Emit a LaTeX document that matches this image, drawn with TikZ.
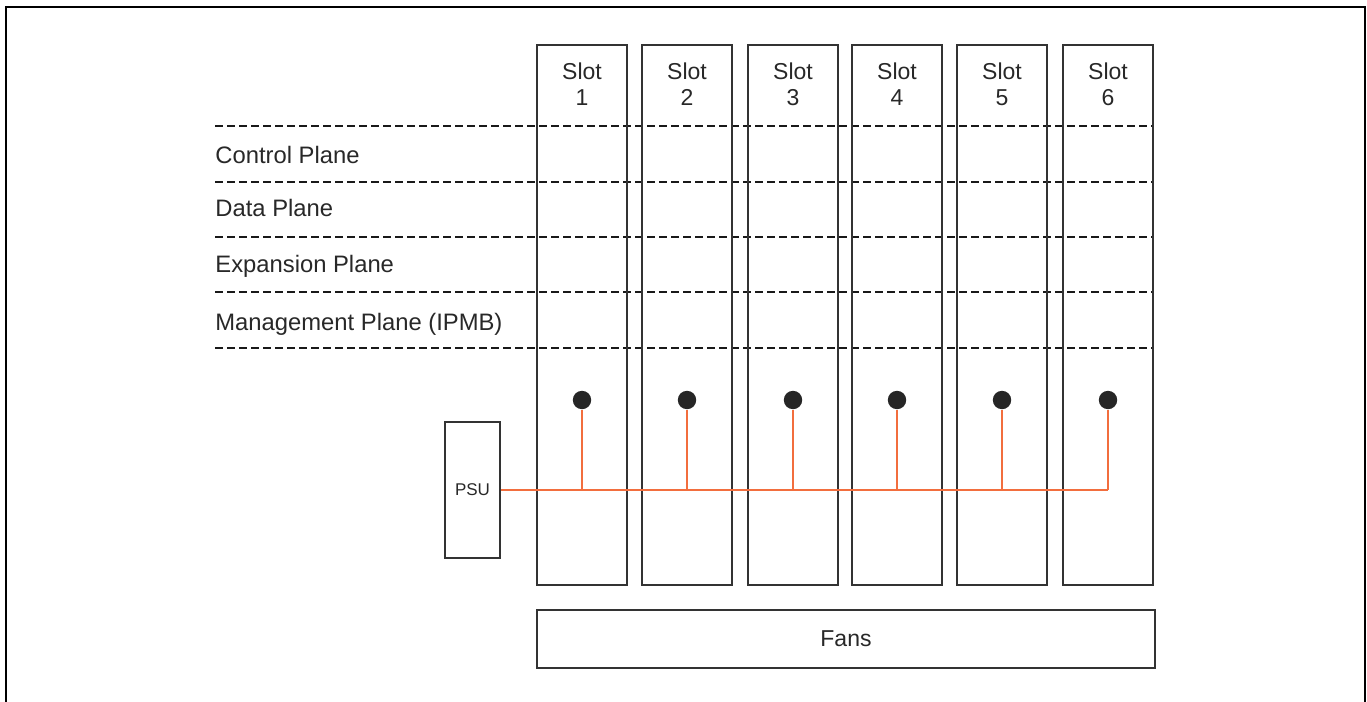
\documentclass[tikz,border=0pt]{standalone}
\usepackage{fontspec}
\setmainfont{Liberation Sans}
\definecolor{psuorange}{RGB}{242,110,62}
\definecolor{boxgray}{RGB}{51,51,51}
\definecolor{textgray}{RGB}{40,40,40}

\begin{document}
\begin{tikzpicture}[x=0.5pt, y=-0.5pt,
		box/.style={draw=boxgray, line width=1pt, inner sep=0pt, text=textgray},
		slotlabel/.style={align=center, inner sep=0pt, text=textgray, font=\fontsize{11.5}{13}\selectfont},
		plane/.style={anchor=base west, inner sep=0pt, text=textgray, font=\fontsize{11.9}{14}\selectfont},
		pin/.style={circle, fill=black!85, inner sep=0pt, minimum size=9.2pt},
		power/.style={psuorange, line width=1.35pt}]
		\useasboundingbox (0, 0) rectangle (1367, 702);
		\draw[black, line width=1pt] (6, 702) -- (6, 7) -- (1365, 7) -- (1365, 702);
		\foreach \y in {126, 182, 237, 292, 348}
			\draw[black!90, line width=0.8pt, dash pattern=on 4pt off 2pt] (215, \y) -- (1154, \y);
		\node[plane] (control) at (215, 163) {Control Plane};
		\node[plane] (data) at (215, 216) {Data Plane};
		\node[plane] (expansion) at (215, 272) {Expansion Plane};
		\node[plane] (management) at (215, 330) {Management Plane (IPMB)};
		\foreach \n/\x in {1/582, 2/687, 3/793, 4/897, 5/1002, 6/1108} {
			\node[box, minimum width=45pt, minimum height=270pt] (slot\n) at (\x, 315) {};
			\node[slotlabel] (slottext\n) at (\x, 84) {Slot\\\n};
			\node[pin] (pin\n) at (\x, 400) {};
		}
		\node[box, minimum width=27.5pt, minimum height=68pt, font=\fontsize{8.5}{10}\selectfont] (psu) at (472.5, 490) {PSU};
		\node[box, minimum width=309pt, minimum height=29pt, font=\fontsize{11.5}{12}\selectfont] (fans) at (846, 639) {Fans};
		\draw[power] (psu.east) -- (pin6 |- psu.east);
		\foreach \n in {1,...,6}
			\draw[power] (pin\n.south) -- (pin\n |- psu.east);
	\end{tikzpicture}
\end{document}
